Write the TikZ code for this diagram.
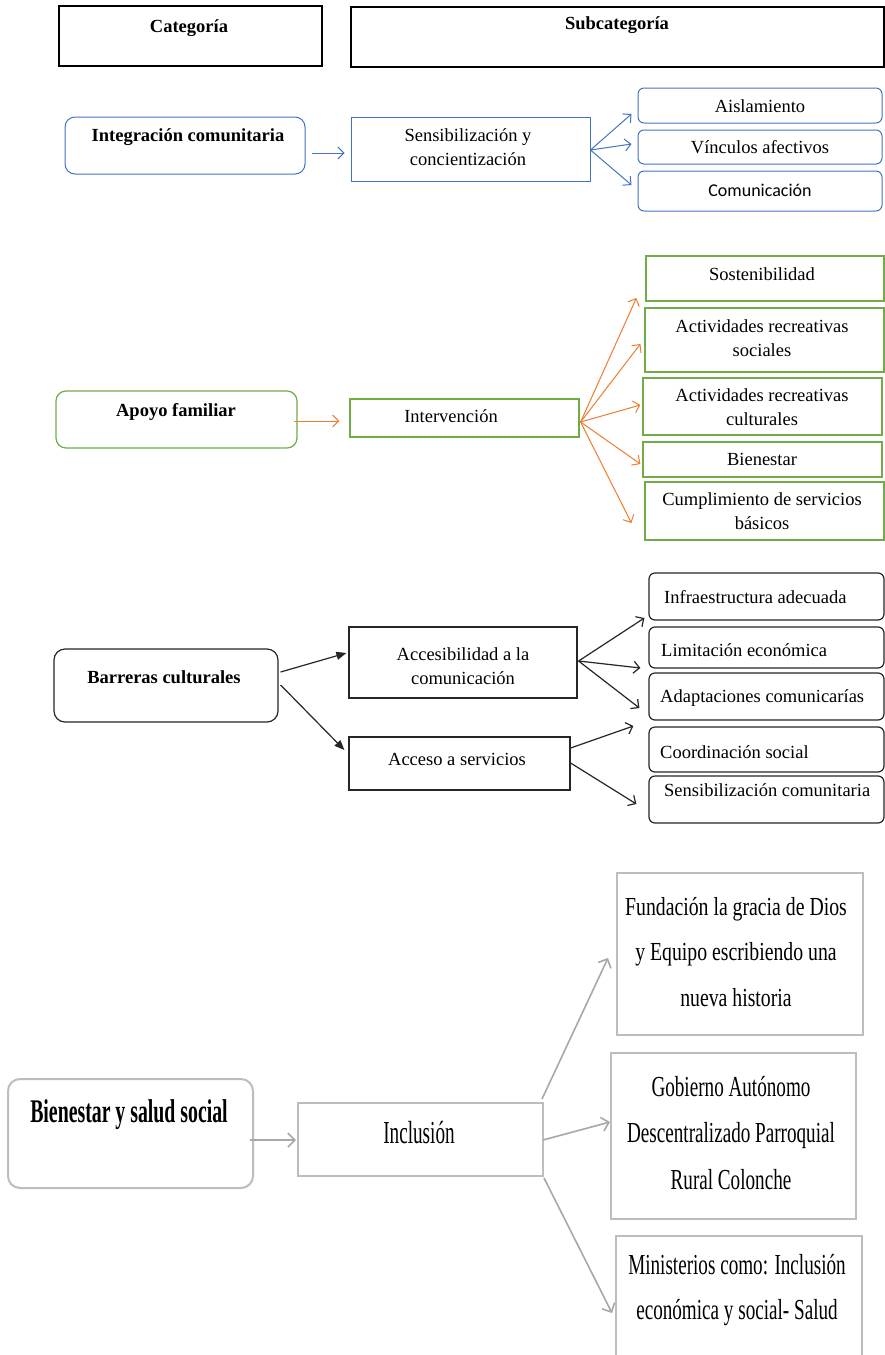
\documentclass[tikz,border=0pt]{standalone}
\usepackage{fontspec}
\setmainfont{Liberation Serif}
\newfontfamily\calib{Carlito}
\newfontfamily\condA[FakeStretch=0.76]{Liberation Serif}
\newfontfamily\condB[FakeStretch=0.66]{Liberation Serif}
\newfontfamily\condC[FakeStretch=0.6]{Liberation Serif}
\usetikzlibrary{arrows.meta,calc}
\definecolor{cblue}{HTML}{4472C4}
\definecolor{cgreen}{HTML}{70AD47}
\definecolor{corange}{HTML}{ED7D31}
\definecolor{cgrayb}{HTML}{BDBDBD}
\definecolor{cgraya}{HTML}{A8A8A8}
\begin{document}
\begin{tikzpicture}[x=1pt,y=-1pt,
  bx/.style={draw, inner sep=0pt},
  hdr/.style={bx, line width=1.3pt, black},
  bluebox/.style={bx, line width=1pt, cblue},
  greenbox/.style={bx, line width=1.2pt, cgreen},
  blackbox/.style={bx, line width=1.2pt, black!85},
  graybox/.style={bx, line width=2pt, cgrayb},
  txt/.style={inner sep=0pt, align=center, font=\fontsize{18.5}{24}\selectfont},
  txtb/.style={txt, font=\fontsize{18.5}{24}\selectfont\bfseries},
  barb/.style={-{Straight Barb[length=6pt,width=12pt]}},
  blueArr/.style={barb, cblue, line width=1pt},
  orangeArr/.style={barb, corange, line width=1pt},
  blackArr/.style={barb, black!85, line width=1.2pt},
  fillArr/.style={-{Triangle[length=10pt,width=8pt]}, black!85, line width=1.2pt},
  grayArr/.style={-{Straight Barb[length=7pt,width=14pt]}, cgraya, line width=1.6pt},
]
\useasboundingbox (0,0) rectangle (885,1355);
\fill[white] (0,0) rectangle (885,1355);

% header
\node[hdr, minimum width=263pt, minimum height=60pt] (cat) at (190.5,36) {};
\node[hdr, minimum width=533pt, minimum height=60pt] (sub) at (617.5,37) {};
\node[txtb] (catt) at (189,28) {Categoría};
\node[txtb] (subt) at (617,25) {Subcategoría};

% section 1
\node[bluebox, rounded corners=10pt, minimum width=240pt, minimum height=57pt] (intc) at (185,145.5) {};
\node[bluebox, minimum width=239pt, minimum height=64pt] (sens) at (470.5,149) {};
\node[bluebox, rounded corners=6pt, minimum width=244pt, minimum height=35pt] (ais) at (760,105.5) {};
\node[bluebox, rounded corners=6pt, minimum width=244pt, minimum height=34pt] (vin) at (760,147) {};
\node[bluebox, rounded corners=6pt, minimum width=244pt, minimum height=40pt] (com) at (760,191) {};
\node[txtb] (intct) at (188,137) {Integración comunitaria};
\node[txt] (senst) at (468,147) {Sensibilización y\\concientización};
\node[txt] (aist) at (760,106) {Aislamiento};
\node[txt] (vint) at (760,147) {Vínculos afectivos};
\node[inner sep=0pt, font=\calib\fontsize{18}{22}\selectfont] (comt) at (760,190) {Comunicación};
\draw[blueArr] ($(intc.east)+(6,7.5)$) -- ($(sens.west)+(-6,4)$);
\draw[blueArr] ($(sens.east)+(0,1)$) -- ($(ais.west)+(-6,8.5)$);
\draw[blueArr] ($(sens.east)+(0,1)$) -- ($(vin.west)+(-6,-3)$);
\draw[blueArr] ($(sens.east)+(0,1)$) -- ($(com.west)+(-6,-6)$);

% section 2
\node[greenbox, rounded corners=10pt, minimum width=241pt, minimum height=57pt] (apo) at (176.5,419.5) {};
\node[greenbox, minimum width=229pt, minimum height=38pt] (int) at (464.5,418) {};
\node[greenbox, minimum width=238pt, minimum height=45pt] (sos) at (765,278.5) {};
\node[greenbox, minimum width=239pt, minimum height=64pt] (ars) at (764.5,340) {};
\node[greenbox, minimum width=239pt, minimum height=57pt] (arc) at (762.5,406.5) {};
\node[greenbox, minimum width=239pt, minimum height=35pt] (bie) at (762.5,459.5) {};
\node[greenbox, minimum width=239pt, minimum height=58pt] (cum) at (764.5,511) {};
\node[txtb] (apot) at (176,412) {Apoyo familiar};
\node[txt] (intt) at (451,416) {Intervención};
\node[txt] (sost) at (762,274) {Sostenibilidad};
\node[txt] (arst) at (762,338) {Actividades recreativas\\sociales};
\node[txt] (arct) at (762,407) {Actividades recreativas\\culturales};
\node[txt] (biet) at (762,459) {Bienestar};
\node[txt] (cumt) at (762,511) {Cumplimiento de servicios\\básicos};
\draw[orangeArr] ($(apo.east)+(-4,1.5)$) -- ($(int.west)+(-10,3)$);
\draw[orangeArr] ($(int.east)+(1,4)$) -- ($(sos.west)+(-9,19.5)$);
\draw[orangeArr] ($(int.east)+(1,4)$) -- ($(ars.west)+(-4,4)$);
\draw[orangeArr] ($(int.east)+(1,4)$) -- ($(arc.west)+(-2,-1.5)$);
\draw[orangeArr] ($(int.east)+(1,4)$) -- ($(bie.west)+(-2,4.5)$);
\draw[orangeArr] ($(int.east)+(1,4)$) -- ($(cum.west)+(-13,12)$);

% section 3
\node[blackbox, rounded corners=11pt, minimum width=224pt, minimum height=73pt] (bar) at (166,685.5) {};
\node[blackbox, minimum width=228pt, minimum height=71pt] (acc) at (463,662.5) {};
\node[blackbox, minimum width=221pt, minimum height=53pt] (acs) at (459.5,763.5) {};
\node[blackbox, rounded corners=6pt, minimum width=235pt, minimum height=47pt] (inf) at (766.5,596.5) {};
\node[blackbox, rounded corners=6pt, minimum width=235pt, minimum height=41pt] (lim) at (766.5,647.5) {};
\node[blackbox, rounded corners=6pt, minimum width=235pt, minimum height=47pt] (ada) at (766.5,696.5) {};
\node[blackbox, rounded corners=6pt, minimum width=235pt, minimum height=45pt] (coo) at (766.5,749.5) {};
\node[blackbox, rounded corners=6pt, minimum width=235pt, minimum height=47pt] (sen) at (766.5,799.5) {};
\node[txtb] (bart) at (164,677) {Barreras culturales};
\node[txt] (acct) at (463,666) {Accesibilidad a la\\comunicación};
\node[txt] (acst) at (457,759) {Acceso a servicios};
\node[txt, anchor=west] (inft) at (664,597) {Infraestructura adecuada};
\node[txt, anchor=west] (limt) at (661,650) {Limitación económica};
\node[txt, anchor=west] (adat) at (660,698) {Adaptaciones comunicarías};
\node[txt, anchor=west] (coot) at (660,752) {Coordinación social};
\node[txt, anchor=west] (sent) at (664,790) {Sensibilización comunitaria};
\draw[fillArr] ($(bar.east)+(2,-13.5)$) -- ($(acc.west)+(-2,-9.5)$);
\draw[fillArr] ($(bar.east)+(2,-0.5)$) -- ($(acs.west)+(-4,-13.5)$);
\draw[blackArr] ($(acc.east)+(1,-1.5)$) -- ($(inf.west)+(-4,21.5)$);
\draw[blackArr] ($(acc.east)+(1,-1.5)$) -- ($(lim.west)+(-8,20.5)$);
\draw[blackArr] ($(acc.east)+(1,-1.5)$) -- ($(ada.west)+(-9,11.5)$);
\draw[blackArr] ($(acs.east)+(0,-15.5)$) -- ($(coo.west)+(-15,-23.5)$);
\draw[blackArr] ($(acs.east)+(0,-0.5)$) -- ($(sen.west)+(-12,4.5)$);

% section 4
\node[graybox, rounded corners=12pt, minimum width=245pt, minimum height=109pt] (bys) at (130.5,1133.5) {};
\node[graybox, minimum width=245pt, minimum height=73pt] (inc) at (420.5,1139.5) {};
\node[graybox, minimum width=246pt, minimum height=162pt] (fun) at (740,954) {};
\node[graybox, minimum width=245pt, minimum height=166pt] (gob) at (733.5,1136) {};
\node[graybox, minimum width=246pt, minimum height=124pt] (min) at (739,1298) {};
\node[inner sep=0pt, font=\condC\fontsize{33}{40}\selectfont\bfseries] (byst) at (129,1115) {Bienestar y salud social};
\node[inner sep=0pt, font=\condC\fontsize{32}{40}\selectfont] (inct) at (419,1133) {Inclusión};
\node[inner sep=0pt, align=center, font=\condA\fontsize{26}{45.5}\selectfont] (funt) at (736,952) {Fundación la gracia de Dios\\y Equipo escribiendo una\\nueva historia};
\node[inner sep=0pt, align=center, font=\condB\fontsize{29}{46.5}\selectfont] (gobt) at (731,1133) {Gobierno Autónomo\\Descentralizado Parroquial\\Rural Colonche};
\node[inner sep=0pt, align=center, font=\condB\fontsize{29}{45}\selectfont] (mint) at (737,1290) {Ministerios como: Inclusión\\económica y social- Salud};
\draw[grayArr] ($(bys.east)+(-4,6.5)$) -- ($(inc.west)+(-1,0.5)$);
\draw[grayArr] ($(inc.north east)+(-2,-3)$) -- ($(fun.west)+(-8,4)$);
\draw[grayArr] ($(inc.east)+(-1,0.5)$) -- ($(gob.west)+(0,-14)$);
\draw[grayArr] ($(inc.south east)+(0,1)$) -- ($(min.west)+(-3,15)$);
\end{tikzpicture}
\end{document}
